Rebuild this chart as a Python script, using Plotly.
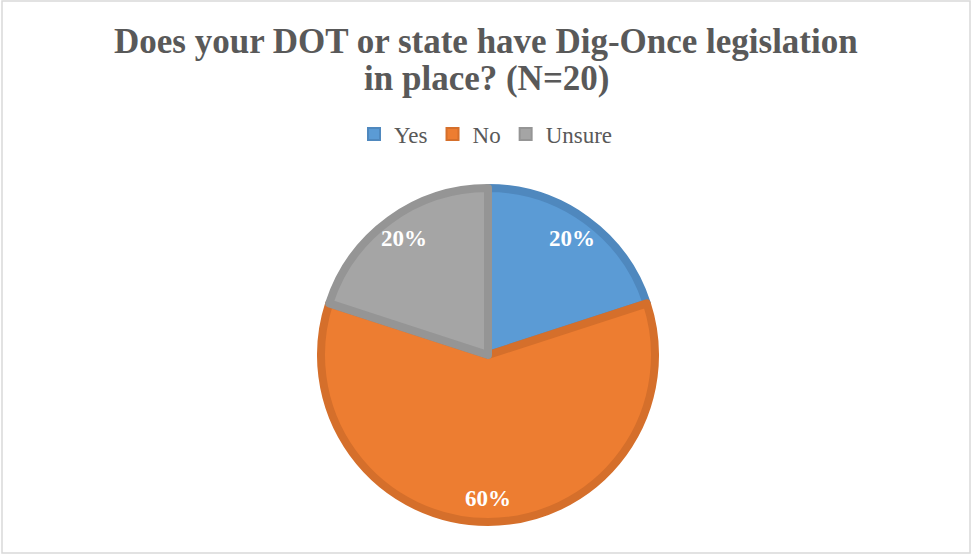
import math
import plotly.graph_objects as go

# Survey responses (N=20)
labels = ["Yes", "No", "Unsure"]
shares = [20, 60, 20]
fill_colors = ["#5B9BD5", "#ED7D31", "#A5A5A5"]
edge_colors = ["#4F88BE", "#D56F2B", "#959595"]
title_lines = ["Does your DOT or state have Dig-Once legislation", "in place? (N=20)"]

W, H = 972, 556
cx, cy, r = 488, 355, 167
label_radius = 0.84 * (r + 4)

fig = go.Figure(
    go.Pie(
        labels=labels,
        values=shares,
        sort=False,
        direction="clockwise",
        rotation=0,
        marker=dict(colors=fill_colors, line=dict(color=edge_colors, width=8)),
        textinfo="none",
        domain=dict(x=[(cx - r) / W, (cx + r) / W], y=[1 - (cy + r) / H, 1 - (cy - r) / H]),
        hoverinfo="label+percent",
    )
)

# Percentage labels placed near the rim of each slice
annotations = []
total = sum(shares)
start = 0.0
for v in shares:
    mid = (start + v / 2) / total * 2 * math.pi
    start += v
    px = cx + label_radius * math.sin(mid)
    py = cy - label_radius * math.cos(mid)
    annotations.append(dict(
        x=px / W, y=1 - py / H, xref="paper", yref="paper",
        text=f"<b>{round(100 * v / total)}%</b>", showarrow=False,
        xanchor="center", yanchor="middle",
        font=dict(family="Liberation Serif", size=23, color="white"),
    ))

# Two-line chart title
for line, ty in zip(title_lines, [42, 78]):
    annotations.append(dict(
        x=0.5, y=1 - ty / H, xref="paper", yref="paper",
        text=f"<b>{line}</b>", showarrow=False,
        xanchor="center", yanchor="middle",
        font=dict(family="Liberation Serif", size=35, color="#595959"),
    ))

fig.update_layout(
    width=W,
    height=H,
    margin=dict(l=0, r=0, t=0, b=0),
    paper_bgcolor="white",
    annotations=annotations,
    legend=dict(
        orientation="h",
        x=0.5,
        xanchor="center",
        y=1 - 134 / H,
        yanchor="middle",
        font=dict(family="Liberation Serif", size=23, color="#595959"),
        itemwidth=30,
        itemsizing="constant",
    ),
    shapes=[
        dict(
            type="rect", xref="paper", yref="paper",
            x0=2 / W, x1=970 / W, y0=1 - 553 / H, y1=1 - 1 / H,
            line=dict(color="#D9D9D9", width=1.5),
        )
    ],
)

fig.write_html("out.html")
